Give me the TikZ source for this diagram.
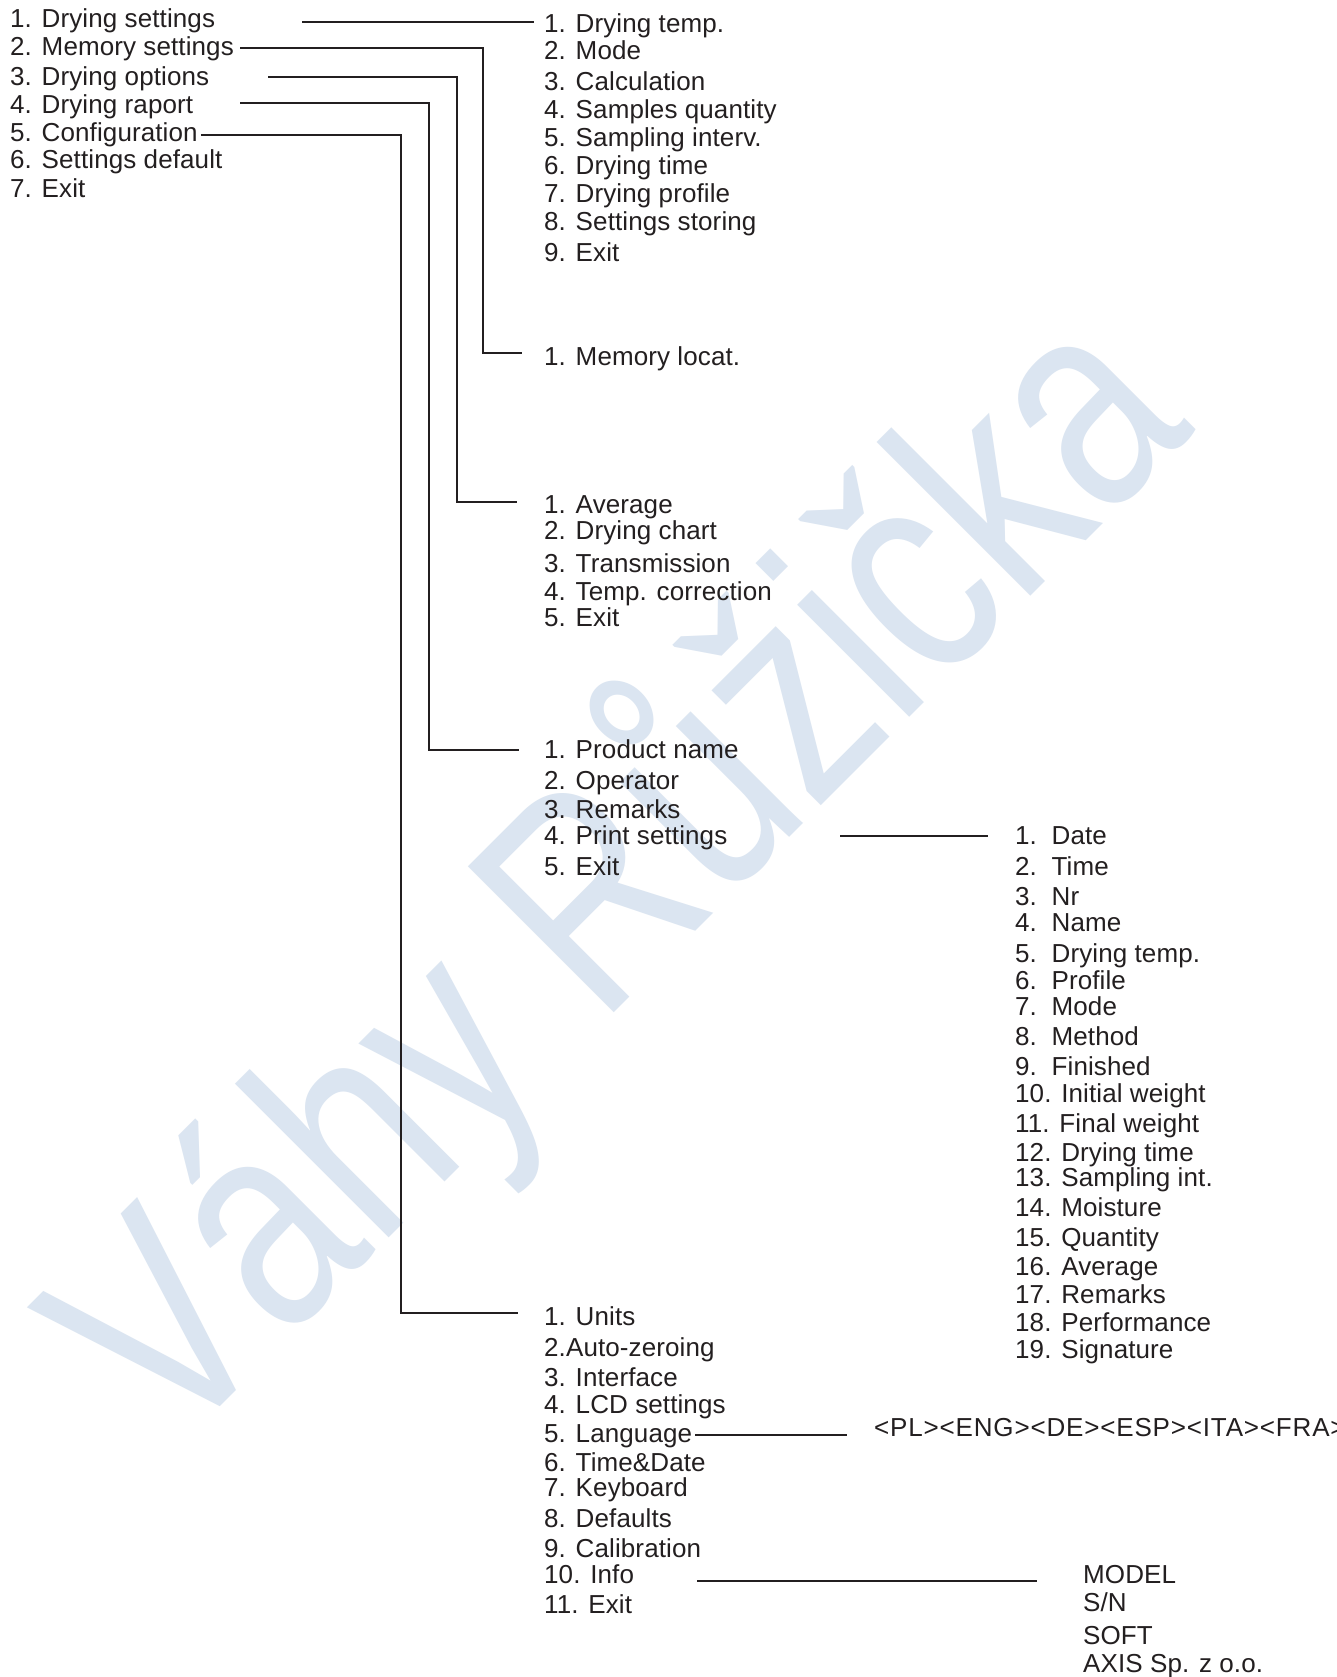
\documentclass[tikz,border=0pt]{standalone}
\usepackage{fontspec}
\setmainfont{Liberation Sans}[LetterSpace=0.4]
\newfontfamily\wmfont{Liberation Sans}
\usepackage{graphicx}
\definecolor{ink}{HTML}{231F20}
\definecolor{wmark}{RGB}{219,229,241}
\begin{document}
\begin{tikzpicture}[x=1pt,y=-1pt,
  txt/.style={anchor=base west, inner sep=0pt, text=ink, font=\fontsize{26}{30}\selectfont},
  conn/.style={draw=ink, line width=2pt}]
\useasboundingbox (0,0) rectangle (1336,1677);
\clip (0,0) rectangle (1336,1677);
\fill[white] (0,0) rectangle (1336,1677);
% watermark
\node[anchor=base west, inner sep=0pt, rotate=45, text=wmark, font=\wmfont\fontsize{300}{300}\selectfont] (wm) at (172,1455) {\scalebox{0.79}[1]{Váhy Růžička}};
% main menu
\node[txt] (m1) at (10,28) {1. Drying settings};
\node[txt] (m2) at (10,55.5) {2. Memory settings};
\node[txt] (m3) at (10,85.5) {3. Drying options};
\node[txt] (m4) at (10,113.7) {4. Drying raport};
\node[txt] (m5) at (10,141.3) {5. Configuration};
\node[txt] (m6) at (10,169) {6. Settings default};
\node[txt] (m7) at (10,197.5) {7. Exit};
% drying settings
\node[txt] (d1) at (544,33) {1. Drying temp.};
\node[txt] (d2) at (544,60) {2. Mode};
\node[txt] (d3) at (544,91) {3. Calculation};
\node[txt] (d4) at (544,119) {4. Samples quantity};
\node[txt] (d5) at (544,146.5) {5. Sampling interv.};
\node[txt] (d6) at (544,175) {6. Drying time};
\node[txt] (d7) at (544,203) {7. Drying profile};
\node[txt] (d8) at (544,231) {8. Settings storing};
\node[txt] (d9) at (544,262) {9. Exit};
% memory
\node[txt] (n1) at (544,365) {1. Memory locat.};
% options
\node[txt] (o1) at (544,513) {1. Average};
\node[txt] (o2) at (544,539) {2. Drying chart};
\node[txt] (o3) at (544,572) {3. Transmission};
\node[txt] (o4) at (544,600) {4. Temp. correction};
\node[txt] (o5) at (544,626) {5. Exit};
% raport
\node[txt] (r1) at (544,758) {1. Product name};
\node[txt] (r2) at (544,789) {2. Operator};
\node[txt] (r3) at (544,818.5) {3. Remarks};
\node[txt] (r4) at (544,844.4) {4. Print settings};
\node[txt] (r5) at (544,875) {5. Exit};
% print settings
\node[txt] (p1) at (1015,844.4) {1.\ \ Date};
\node[txt] (p2) at (1015,875.4) {2.\ \ Time};
\node[txt] (p3) at (1015,905.3) {3.\ \ Nr};
\node[txt] (p4) at (1015,931) {4.\ \ Name};
\node[txt] (p5) at (1015,962) {5.\ \ Drying temp.};
\node[txt] (p6) at (1015,989.8) {6.\ \ Profile};
\node[txt] (p7) at (1015,1015.5) {7.\ \ Mode};
\node[txt] (p8) at (1015,1045.4) {8.\ \ Method};
\node[txt] (p9) at (1015,1075.4) {9.\ \ Finished};
\node[txt] (p10) at (1015,1102.1) {10. Initial weight};
\node[txt] (p11) at (1015,1132.1) {11. Final weight};
\node[txt] (p12) at (1015,1161) {12. Drying time};
\node[txt] (p13) at (1015,1186.6) {13. Sampling int.};
\node[txt] (p14) at (1015,1216.6) {14. Moisture};
\node[txt] (p15) at (1015,1246.6) {15. Quantity};
\node[txt] (p16) at (1015,1275.4) {16. Average};
\node[txt] (p17) at (1015,1303.2) {17. Remarks};
\node[txt] (p18) at (1015,1331) {18. Performance};
\node[txt] (p19) at (1015,1358.8) {19. Signature};
% configuration
\node[txt] (g1) at (544,1325.7) {1. Units};
\node[txt] (g2) at (544,1356.7) {2.Auto-zeroing};
\node[txt] (g3) at (544,1386.6) {3. Interface};
\node[txt] (g4) at (544,1413.4) {4. LCD settings};
\node[txt] (g5) at (544,1442) {5. Language};
\node[txt] (g6) at (544,1471.1) {6. Time\&Date};
\node[txt] (g7) at (544,1496.8) {7. Keyboard};
\node[txt] (g8) at (544,1527.8) {8. Defaults};
\node[txt] (g9) at (544,1557.8) {9. Calibration};
\node[txt] (g10) at (544,1583.5) {10. Info};
\node[txt] (g11) at (544,1613.4) {11. Exit};
\node[txt] (lang) at (874,1436) {\addfontfeatures{LetterSpace=3.2}<PL><ENG><DE><ESP><ITA><FRA>};
% info
\node[txt] (x1) at (1083,1583.5) {MODEL};
\node[txt] (x2) at (1083,1611.5) {S/N};
\node[txt] (x3) at (1083,1644.2) {SOFT};
\node[txt] (x4) at (1083,1672) {AXIS Sp. z o.o.};
% connectors
\coordinate (s1) at (302,21.7);
\coordinate (t1) at ([xshift=-10pt]d1.base west);
\draw[conn] (s1) -- (s1 -| t1);
\coordinate (s2) at (240,47.7);
\coordinate (v2) at (482.7,0);
\coordinate (t2) at ([xshift=-22.3pt,yshift=11.7pt]n1.base west);
\draw[conn] (s2) -| (v2 |- t2) -- (t2);
\coordinate (s3) at (268,76.7);
\coordinate (v3) at (457,0);
\coordinate (t3) at ([xshift=-27.3pt,yshift=11.3pt]o1.base west);
\draw[conn] (s3) -| (v3 |- t3) -- (t3);
\coordinate (s4) at (240,102.7);
\coordinate (v4) at (429,0);
\coordinate (t4) at ([xshift=-25pt,yshift=8pt]r1.base west);
\draw[conn] (s4) -| (v4 |- t4) -- (t4);
\coordinate (s5) at ([xshift=3pt,yshift=6.3pt]m5.base east);
\coordinate (v5) at (401,0);
\coordinate (t5) at ([xshift=-25.7pt,yshift=12.7pt]g1.base west);
\draw[conn] (s5) -| (v5 |- t5) -- (t5);
\coordinate (s6) at (840,836);
\coordinate (t6) at ([xshift=-27pt]p1.base west);
\draw[conn] (s6) -- (s6 -| t6);
\coordinate (s7) at ([xshift=3pt,yshift=7pt]g5.base east);
\coordinate (t7) at ([xshift=-27.3pt]lang.base west);
\draw[conn] (s7) -- (s7 -| t7);
\coordinate (s8) at (697,1580.5);
\coordinate (t8) at ([xshift=-46pt]x1.base west);
\draw[conn] (s8) -- (s8 -| t8);
\end{tikzpicture}
\end{document}
